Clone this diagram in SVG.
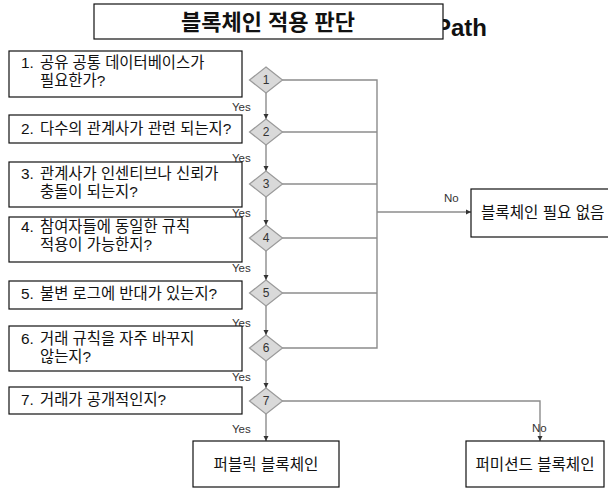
<svg xmlns="http://www.w3.org/2000/svg" width="608" height="491" viewBox="0 0 608 491">
<defs>
<style>
.box{fill:#fff;stroke:#111;stroke-width:1.2}
.dia{fill:#d9d9d9;stroke:#9a9a9a;stroke-width:1.2}
.ln{fill:none;stroke:#8c8c8c;stroke-width:1.4}
.q{font-family:"Liberation Sans","Noto Sans CJK KR",sans-serif;font-size:15.4px;fill:#111}
.r{font-family:"Liberation Sans","Noto Sans CJK KR",sans-serif;font-size:15.6px;fill:#111}
.d{font-family:"Liberation Sans","Noto Sans CJK KR",sans-serif;font-size:12px;fill:#333;text-anchor:middle}
.lbl{font-family:"Liberation Sans",sans-serif;font-size:11.5px;fill:#333}
</style>
<marker id="ah" markerWidth="6" markerHeight="6" refX="5" refY="3" orient="auto" markerUnits="userSpaceOnUse">
<path d="M0,0.5 L5,3 L0,5.5 Z" fill="#333"/>
</marker>
</defs>

<g id="header">
<text x="435" y="36" style="font-family:'Liberation Sans',sans-serif;font-size:24px;font-weight:bold;fill:#111">Path</text>
<rect class="box" x="94" y="4" width="349" height="35"/>
<text x="268" y="30" text-anchor="middle" style="font-family:'Liberation Sans','Noto Sans CJK KR',sans-serif;font-size:22px;font-weight:bold;fill:#111">블록체인 적용 판단</text>
</g>

<g id="connectors">
<path class="ln" d="M266,93 V119" marker-end="url(#ah)"/>
<path class="ln" d="M266,145 V171" marker-end="url(#ah)"/>
<path class="ln" d="M266,197 V225" marker-end="url(#ah)"/>
<path class="ln" d="M266,251 V280" marker-end="url(#ah)"/>
<path class="ln" d="M266,306 V335" marker-end="url(#ah)"/>
<path class="ln" d="M266,361 V388" marker-end="url(#ah)"/>
<path class="ln" d="M266,414 V441" marker-end="url(#ah)"/>
<path class="ln" d="M282,80 H377 V348 H282"/>
<path class="ln" d="M282,132 H377"/>
<path class="ln" d="M282,184 H377"/>
<path class="ln" d="M282,238 H377"/>
<path class="ln" d="M282,293 H377"/>
<path class="ln" d="M377,212 H471" marker-end="url(#ah)"/>
<path class="ln" d="M282,401 H540 V441" marker-end="url(#ah)"/>
<text class="lbl" x="232" y="111">Yes</text>
<text class="lbl" x="232" y="162">Yes</text>
<text class="lbl" x="232" y="217">Yes</text>
<text class="lbl" x="232" y="272">Yes</text>
<text class="lbl" x="232" y="327">Yes</text>
<text class="lbl" x="232" y="381">Yes</text>
<text class="lbl" x="232" y="433">Yes</text>
<text class="lbl" x="444" y="202">No</text>
<text class="lbl" x="532" y="432">No</text>
</g>

<g id="q1"><rect class="box" x="9" y="51" width="233" height="46"/><text class="q" x="21" y="68">1.</text><text class="q" x="40" y="68">공유 공통 데이터베이스가</text><text class="q" x="40" y="86">필요한가?</text></g>
<g id="q2"><rect class="box" x="9" y="115" width="233" height="28"/><text class="q" x="21" y="134">2.</text><text class="q" x="40" y="134">다수의 관계사가 관련 되는지?</text></g>
<g id="q3"><rect class="box" x="9" y="162" width="233" height="45"/><text class="q" x="21" y="179">3.</text><text class="q" x="40" y="179">관계사가 인센티브나 신뢰가</text><text class="q" x="40" y="197">충돌이 되는지?</text></g>
<g id="q4"><rect class="box" x="9" y="217" width="233" height="45"/><text class="q" x="21" y="232">4.</text><text class="q" x="40" y="232">참여자들에 동일한 규칙</text><text class="q" x="40" y="250">적용이 가능한지?</text></g>
<g id="q5"><rect class="box" x="9" y="281" width="233" height="28"/><text class="q" x="21" y="299">5.</text><text class="q" x="40" y="299">불변 로그에 반대가 있는지?</text></g>
<g id="q6"><rect class="box" x="9" y="326" width="233" height="45"/><text class="q" x="21" y="344">6.</text><text class="q" x="40" y="344">거래 규칙을 자주 바꾸지</text><text class="q" x="40" y="362">않는지?</text></g>
<g id="q7"><rect class="box" x="9" y="387" width="233" height="27"/><text class="q" x="21" y="405">7.</text><text class="q" x="40" y="405">거래가 공개적인지?</text></g>

<g id="d1"><polygon class="dia" points="266,67 282.5,80 266,93 249.5,80"/><text class="d" x="266" y="84">1</text></g>
<g id="d2"><polygon class="dia" points="266,119 282.5,132 266,145 249.5,132"/><text class="d" x="266" y="136">2</text></g>
<g id="d3"><polygon class="dia" points="266,171 282.5,184 266,197 249.5,184"/><text class="d" x="266" y="188">3</text></g>
<g id="d4"><polygon class="dia" points="266,225 282.5,238 266,251 249.5,238"/><text class="d" x="266" y="242">4</text></g>
<g id="d5"><polygon class="dia" points="266,280 282.5,293 266,306 249.5,293"/><text class="d" x="266" y="297">5</text></g>
<g id="d6"><polygon class="dia" points="266,335 282.5,348 266,361 249.5,348"/><text class="d" x="266" y="352">6</text></g>
<g id="d7"><polygon class="dia" points="266,388 282.5,401 266,414 249.5,401"/><text class="d" x="266" y="405">7</text></g>

<g id="no-blockchain"><rect class="box" x="471" y="189" width="150" height="48"/><text class="r" x="481" y="218">블록체인 필요 없음</text></g>
<g id="public"><rect class="box" x="193" y="441" width="146" height="46"/><text class="r" x="266" y="470" text-anchor="middle">퍼블릭 블록체인</text></g>
<g id="permissioned"><rect class="box" x="466" y="441" width="138" height="46"/><text class="r" x="535" y="470" text-anchor="middle">퍼미션드 블록체인</text></g>
</svg>
